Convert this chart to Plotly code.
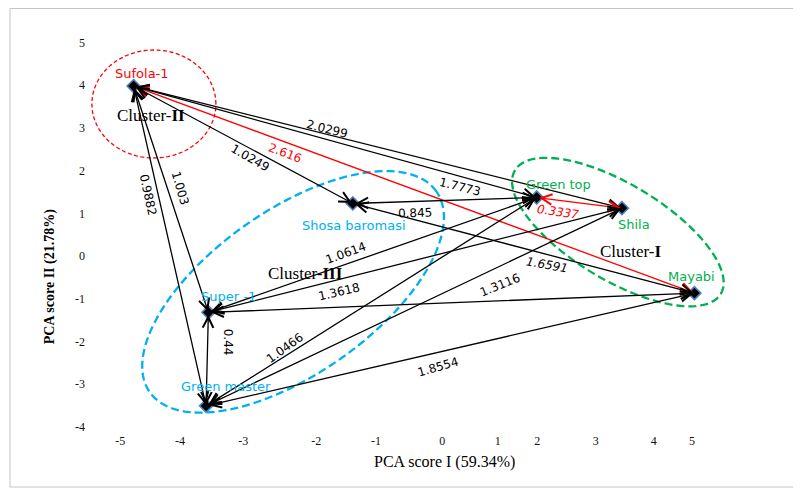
import numpy as np
import plotly.graph_objects as go

# ---------------- data ----------------
cultivars = ["Sufola-1", "Shosa baromasi", "Green top", "Shila", "Mayabi", "Super -1", "Green master"]
pca1 = [-4.99, -1.21, 1.96, 3.43, 4.68, -3.70, -3.74]
pca2 = [3.98, 1.23, 1.37, 1.12, -0.87, -1.32, -3.51]

# edges between cultivars (indices) with inter-cluster distances
edge_from = [0, 0, 0, 0, 0, 0, 1, 2, 1, 5, 5, 6, 6, 6, 5, 5]
edge_to   = [3, 4, 1, 5, 6, 2, 2, 3, 4, 2, 3, 3, 2, 4, 6, 4]
edge_dist = ["2.0299", "2.616", "1.0249", "1.003", "0.9882", "1.7773", "0.845", "0.3337",
             "1.6591", "1.0614", "1.3618", "1.3116", "1.0466", "1.8554", "0.44", ""]
edge_red  = [False, True, False, False, False, False, False, True,
             False, False, False, False, False, False, False, False]

x_tick_labels = ["-5", "-4", "-3", "-2", "-1", "0", "1", "2", "3", "4", "5"]
y_tick_labels = ["-4", "-3", "-2", "-1", "0", "1", "2", "3", "4", "5"]

# ---------------- layout / style ----------------
OFF = 8                      # default page body margin
W, H = 801 - OFF, 489 - OFF
# plot area in page pixels
L, R, T, B = 88, 790, 20, 432
XR = [-5.776, 6.328]
YR = [-4.122, 5.527]
SX = (R - L) / (XR[1] - XR[0])
SY = (B - T) / (YR[1] - YR[0])

x_tick_pos = [-5.22, -4.19, -3.10, -1.84, -0.81, 0.33, 1.29, 1.97, 2.98, 3.98, 4.64]
y_tick_pos = [-4, -3, -2, -1, 0, 1, 2, 3, 4, 5]

RED, BLUE, GREEN = "#FF0000", "#00B0F0", "#00B050"
point_colors = [RED, BLUE, GREEN, GREEN, GREEN, BLUE, BLUE]
label_shift = [(8, 13), (1, -22), (22, 13), (12, -16), (-3, 17), (20, 16), (20, 19)]

edge_label_xy = [(-1.66, 2.97), (-2.38, 2.42), (-2.98, 2.29), (-4.19, 1.59), (-4.74, 1.43),
                 (0.64, 1.62), (-0.14, 1.01), (2.33, 1.04), (2.14, -0.21), (-1.32, 0.06),
                 (-1.45, -0.84), (1.33, -0.68), (-2.38, -2.16), (0.26, -2.60), (-3.36, -2.01),
                 (0, 0)]
edge_label_ang = [14, 21, 30, 74, 78, 14, -2, 8, 10, -20, -13, -22, -36, -16, 90, 0]
edge_label_italic = [False, False, False, False, False, False, False, True,
                     True, False, False, False, False, False, False, False]


def px2paper(px, py):
    return (px - L) / (R - L), (B - py) / (B - T)


def ellipse_path(cx, cy, a_px, b_px, ang_deg, n=160):
    t = np.linspace(0, 2 * np.pi, n)
    th = np.radians(ang_deg)
    dx = a_px * np.cos(t) * np.cos(th) - b_px * np.sin(t) * np.sin(th)
    dy = a_px * np.cos(t) * np.sin(th) + b_px * np.sin(t) * np.cos(th)
    xs = cx + dx / SX
    ys = cy + dy / SY
    return "M " + " L ".join(f"{x:.4f},{y:.4f}" for x, y in zip(xs, ys)) + " Z"


fig = go.Figure()

shapes = []
# outer frame
fx0, fy0 = px2paper(10, 487)
fx1, fy1 = px2paper(812, 8.5)
shapes.append(dict(type="rect", xref="paper", yref="paper", x0=fx0, y0=fy0, x1=fx1, y1=fy1,
                   line=dict(color="#C4C4C4", width=1), layer="below"))
# cluster ellipses
shapes.append(dict(type="path", xref="x", yref="y", path=ellipse_path(-4.64, 3.56, 62, 54, 0),
                   line=dict(color=RED, width=1.3, dash="4px,2.5px")))
shapes.append(dict(type="path", xref="x", yref="y", path=ellipse_path(-2.24, -0.84, 175, 82, 35),
                   line=dict(color=BLUE, width=2.3, dash="8px,4px")))
shapes.append(dict(type="path", xref="x", yref="y", path=ellipse_path(3.36, 0.56, 120, 48, -31),
                   line=dict(color=GREEN, width=2.3, dash="8px,4px")))

annotations = []
# connecting double-headed arrows
for i, j, red in zip(edge_from, edge_to, edge_red):
    col = RED if red else "#000000"
    annotations.append(dict(
        x=pca1[j], y=pca2[j], ax=pca1[i], ay=pca2[i], xref="x", yref="y", axref="x", ayref="y",
        text="", showarrow=True, arrowside="end+start", arrowhead=5, startarrowhead=5,
        arrowsize=1.6, startarrowsize=1.6, arrowwidth=1.3, arrowcolor=col,
        standoff=1, startstandoff=1))

# distance labels
for k, lab in enumerate(edge_dist):
    if not lab:
        continue
    col = RED if edge_red[k] else "#000000"
    txt = f"<i>{lab}</i>" if edge_label_italic[k] else lab
    annotations.append(dict(
        x=edge_label_xy[k][0], y=edge_label_xy[k][1], xref="x", yref="y", text=txt,
        showarrow=False, textangle=edge_label_ang[k], xanchor="center", yanchor="middle",
        font=dict(family="DejaVu Sans", size=12, color=col)))

# cultivar labels
for k, name in enumerate(cultivars):
    annotations.append(dict(
        x=pca1[k], y=pca2[k], xref="x", yref="y", text=name, showarrow=False,
        xanchor="center", yanchor="middle",
        xshift=label_shift[k][0], yshift=label_shift[k][1],
        font=dict(family="DejaVu Sans", size=13, color=point_colors[k])))

# cluster labels
for cx, cy, roman in [(-4.69, 3.30, "II"), (3.58, 0.10, "I"), (-2.03, -0.42, "III")]:
    annotations.append(dict(
        x=cx, y=cy, xref="x", yref="y", text=f"Cluster-<b>{roman}</b>", showarrow=False,
        xanchor="center", yanchor="middle",
        font=dict(family="Liberation Serif", size=17, color="#000000")))

# axis titles
tx, ty = px2paper(444.5, 462)
annotations.append(dict(x=tx, y=ty, xref="paper", yref="paper", text="PCA score I (59.34%)",
                        showarrow=False, xanchor="center", yanchor="middle",
                        font=dict(family="Liberation Serif", size=16, color="#000000")))
tx, ty = px2paper(49.7, 276.5)
annotations.append(dict(x=tx, y=ty, xref="paper", yref="paper", text="<b>PCA score II (21.78%)</b>",
                        showarrow=False, textangle=-90, xanchor="center", yanchor="middle",
                        font=dict(family="Liberation Serif", size=14, color="#000000")))

fig.add_trace(go.Scatter(
    x=pca1, y=pca2, mode="markers", hoverinfo="text", text=cultivars,
    marker=dict(symbol="diamond", size=10, color="#000000",
                line=dict(color="#4F81BD", width=1.6)),
    showlegend=False))

fig.update_layout(
    width=W, height=H,
    margin=dict(l=L - OFF, r=W - (R - OFF), t=T - OFF, b=H - (B - OFF), pad=0),
    paper_bgcolor="white", plot_bgcolor="white",
    shapes=shapes, annotations=annotations,
    xaxis=dict(range=XR, showgrid=False, zeroline=False, showline=False, ticks="",
               tickmode="array", tickvals=x_tick_pos, ticktext=x_tick_labels,
               tickfont=dict(family="Liberation Serif", size=12, color="#111111")),
    yaxis=dict(range=YR, showgrid=False, zeroline=False, showline=False, ticks="",
               tickmode="array", tickvals=y_tick_pos, ticktext=y_tick_labels,
               ticklabelstandoff=2,
               tickfont=dict(family="Liberation Serif", size=12, color="#111111")),
)

fig.write_html("out.html")
